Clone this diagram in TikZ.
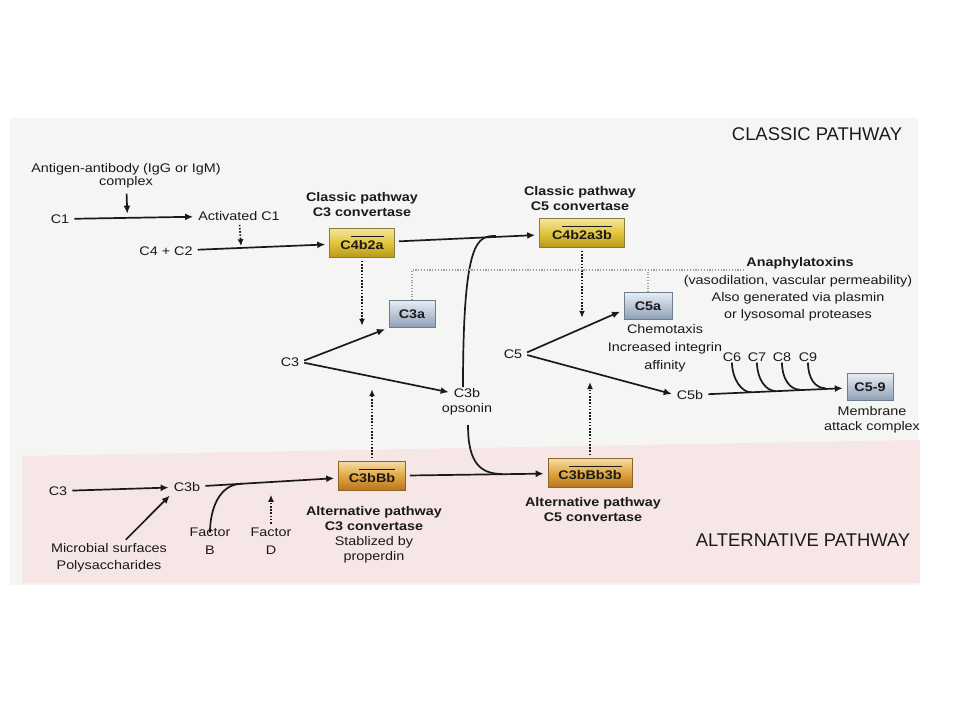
\documentclass[tikz,border=0pt]{standalone}
\usepackage{fontspec}
\setmainfont{Liberation Sans}[FakeStretch=1.15]
\newfontfamily\titlefont{Liberation Sans}
\usetikzlibrary{positioning,calc,arrows.meta}
\definecolor{pagebg}{HTML}{F5F5F3}
\definecolor{pinkbg}{HTML}{F6E6E5}
\definecolor{txt}{HTML}{1A1A1A}
\definecolor{goldtop}{HTML}{F2E6A0}
\definecolor{goldmid}{HTML}{E2C53A}
\definecolor{goldbot}{HTML}{B8961C}
\definecolor{goldedge}{HTML}{8C7A3C}
\definecolor{ambertop}{HTML}{F4DDA6}
\definecolor{ambermid}{HTML}{E0A640}
\definecolor{amberbot}{HTML}{B8741A}
\definecolor{amberedge}{HTML}{8A6428}
\definecolor{bluetop}{HTML}{E6EDF4}
\definecolor{bluebot}{HTML}{8E9FB6}
\definecolor{blueedge}{HTML}{6E7C90}
\newcommand\goldbox[4]{%
\node[conv, top color=goldtop, bottom color=goldbot, middle color=goldmid, draw=goldedge, minimum width=#3] (#1) at (#2) {#4};
}
\newcommand\amberbox[4]{%
\node[conv, top color=ambertop, bottom color=amberbot, middle color=ambermid, draw=amberedge, minimum width=#3] (#1) at (#2) {#4};
}
\newcommand\bluebox[4]{%
\node[conv, top color=bluetop, bottom color=bluebot, draw=blueedge, minimum width=#3, minimum height=27pt] (#1) at (#2) {#4};
}
% bar over a group of letters
\newcommand\ovl[1]{\begingroup\setbox0\hbox{#1}%
\rlap{\rule[\dimexpr\ht0+3.5pt\relax]{\wd0}{0.9pt}}\box0\endgroup}

\begin{document}
\begin{tikzpicture}[x=1pt,y=-1pt,every node/.style={inner sep=1pt,text=txt},
	lbl/.style={font=\fontsize{12.5}{15}\selectfont,align=center},
	blbl/.style={font=\fontsize{12.5}{15}\selectfont\bfseries,align=center},
	ttl/.style={font=\titlefont\fontsize{18.4}{20}\selectfont},
	conv/.style={line width=0.6pt,minimum height=29pt,inner sep=0pt,font=\fontsize{12.5}{15}\selectfont\bfseries},
	arr/.style={draw=txt,line width=1.7pt,-{Latex[length=8pt,width=7pt]},shorten >=4pt,shorten <=4pt},
	link/.style={draw=txt,line width=1.7pt},
	dotarr/.style={draw=txt,line width=1.6pt,dash pattern=on 1.6pt off 1.6pt,-{Latex[length=7pt,width=6pt]},shorten >=2pt,shorten <=3pt},
	hint/.style={draw=gray!75,line width=1.1pt,dash pattern=on 1.1pt off 1.7pt}]
	%% the scanned page
	\useasboundingbox (0,0) rectangle (960,720);
	\fill[pagebg] (10,118) rectangle (918,585);
	\fill[pinkbg] (22,456) -- (920,440) -- (920,583) -- (22,583) -- cycle;
	
	\node[ttl] (classic) at (817,134) {CLASSIC PATHWAY};
	\node[ttl] (alternative) at (803,540) {ALTERNATIVE PATHWAY};
	
	%% classic pathway
	\node[lbl,font=\fontsize{12.5}{13}\selectfont] (agab) at (126,176) {Antigen-antibody (IgG or IgM)\\complex};
	\node[lbl] (c1) at (60,219) {C1};
	\node[lbl] (actc1) at (239,216) {Activated C1};
	\node[lbl] (c4c2) at (166,251) {C4 + C2};
	\node[blbl] (cp3) at (362,205) {Classic pathway\\C3 convertase};
	\goldbox{c4b2a}{362,243}{65pt}{C\ovl{4b2a}}
	\node[blbl] (cp5) at (580,199) {Classic pathway\\C5 convertase};
	\goldbox{c4b2a3b}{582,233}{85pt}{C\ovl{4b2a3b}}
	
	\bluebox{c3a}{412,314}{46pt}{C3a}
	\node[lbl] (c3top) at (290,362) {C3};
	\node[lbl] (c3b) at (467,393) {C3b};
	\node[lbl] (opsonin) at (467,409) {opsonin};
	
	\node[lbl] (c5) at (513,354) {C5};
	\bluebox{c5a}{648,306}{48pt}{C5a}
	\node[lbl,font=\fontsize{12.5}{18}\selectfont] (chemo) at (665,348) {Chemotaxis\\Increased integrin\\affinity};
	\node[blbl] (anaph) at (800,263) {Anaphylatoxins};
	\node[lbl,font=\fontsize{12.5}{17}\selectfont] (anaphtxt) at (798,298) {(vasodilation, vascular permeability)\\Also generated via plasmin\\or lysosomal proteases};
	\node[lbl] (c5b) at (690,395) {C5b};
	\foreach \n/\x in {6/732,7/757,8/782,9/808}
		\node[lbl] (c\n) at (\x,357) {C\n};
	\bluebox{c59}{870,387}{46pt}{C5-9}
	\node[lbl] (mac) at (872,420) {Membrane\\attack complex};
	
	%% alternative pathway
	\node[lbl] (c3bot) at (58,491) {C3};
	\node[lbl] (c3bbot) at (187,487) {C3b};
	\node[lbl,font=\fontsize{12.5}{17}\selectfont] (microbes) at (109,558) {Microbial surfaces\\Polysaccharides};
	\node[lbl,font=\fontsize{12.5}{18}\selectfont] (factorB) at (210,541) {Factor\\B};
	\node[lbl,font=\fontsize{12.5}{18}\selectfont] (factorD) at (271,541) {Factor\\D};
	\amberbox{c3bBb}{372,476}{67pt}{C\ovl{3bBb}}
	\node[lbl] (altc3) at (374,535) {\textbf{Alternative pathway}\\\textbf{C3 convertase}\\Stablized by\\properdin};
	\amberbox{c3bBb3b}{590,473}{84pt}{C\ovl{3bBb3b}}
	\node[blbl] (altc5) at (593,510) {Alternative pathway\\C5 convertase};
	
	%% junctions on the lines
	\path (c1.east) -- (actc1.west) coordinate[pos=0.45] (c1mid);
	\path (c4c2.east) -- (c4b2a.west) coordinate[pos=0.35] (c4mid);
	\path (c4b2a.east) -- (c4b2a3b.west) coordinate[pos=0.7] (j1);
	\path (c3bBb.east) -- (c3bBb3b.west) coordinate[pos=0.68] (j2);
	\path (c3bbot.east) -- (c3bBb.west) coordinate[pos=0.3] (j3);
	\coordinate (opst) at (463,387);
	\coordinate (opsb) at (468,425);
	\coordinate (up2) at (590,380);
	
	%% connectors
	\draw[arr] (agab) -- (c1mid);
	\draw[arr] (c1) -- (actc1);
	\draw[dotarr] (actc1) -- (c4mid);
	\draw[arr] (c4c2) -- (c4b2a);
	\draw[arr] (c4b2a) -- (c4b2a3b);
	\draw[dotarr] (c4b2a.south) -- (c4b2a.south |- c3a.south);
	\draw[dotarr] (c4b2a3b.south) -- (c4b2a3b.south |- c5a.south);
	\draw[arr] (c3top.east) -- (c3a.south west);
	\draw[arr] (c3top.east) -- (c3b.west);
	\draw[link] (opst) .. controls +(0,-150) and +(-18,0) .. (j1);
	\draw[link] (opsb) .. controls +(0,38) and +(-22,0) .. (j2);
	\draw[arr] (c5.east) -- ([yshift=-4pt]c5a.west);
	\draw[arr] (c5.east) -- (c5b.west);
	\draw[arr] (c5b) -- (c59);
	\foreach \n/\p in {6/0.33,7/0.5,8/0.67,9/0.85}{
		\path (c5b.east) -- (c59.west) coordinate[pos=\p] (m\n);
		\draw[link] (c\n.south) .. controls +(0,16) and +(-10,0) .. (m\n);
	}
	\draw[hint] (c3a.north) |- (anaph.south west);
	\draw[hint] (c5a.north) -- (c5a.north |- anaph.south west);
	
	\draw[arr] (c3bot) -- (c3bbot);
	\draw[arr] ([xshift=14pt]microbes.north) -- (c3bbot.south west);
	\draw[arr] (c3bbot) -- (c3bBb);
	\draw[link] ([yshift=-6pt]factorB.north) .. controls +(0,-22) and +(-24,0) .. (j3);
	\draw[dotarr] (factorD.north) -- (factorD.north |- c3bbot.south);
	\draw[arr] (c3bBb) -- (c3bBb3b);
	\draw[dotarr] (c3bBb.north) -- (c3bBb.north |- c3b.north);
	\draw[dotarr] (c3bBb3b.north) -- (up2);
	
\end{tikzpicture}
\end{document}
